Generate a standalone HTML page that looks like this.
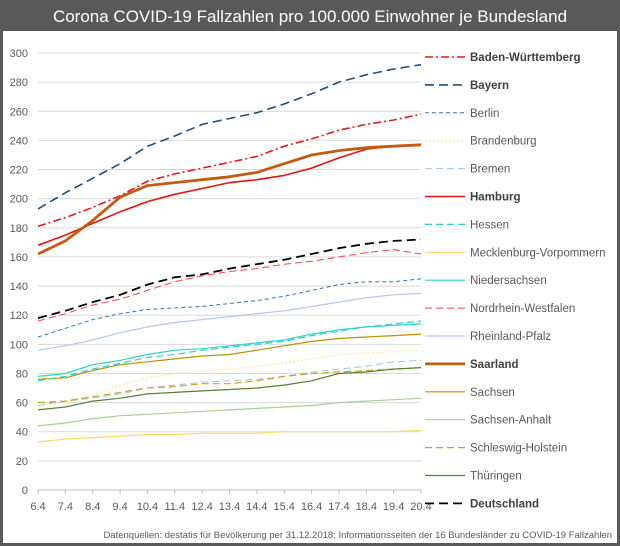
<!DOCTYPE html>
<html><head><meta charset="utf-8">
<style>
html,body{margin:0;padding:0;}
body{width:620px;height:546px;overflow:hidden;background:#fff;font-family:"Liberation Sans",sans-serif;}
#frame{position:absolute;left:0;top:0;width:614px;height:540px;border:3px solid #5a5a5a;background:#fff;}
#title{position:absolute;left:0;top:0;width:614px;height:28px;background:#595959;color:#fff;font-size:17px;line-height:28px;text-align:center;}
svg{position:absolute;left:0;top:0;}
</style></head><body>
<div id="frame"><div id="title">Corona COVID-19 Fallzahlen pro 100.000 Einwohner je Bundesland</div></div>
<svg id="s" width="620" height="546" xmlns="http://www.w3.org/2000/svg" font-family="Liberation Sans, sans-serif"></svg>
<script>
const s=document.getElementById('s');
const X0=38,X1=421,Y0=490,k=(490-53)/300;
const xs=i=>X0+i*(X1-X0)/14, ys=v=>Y0-v*k;
let h='';
for(let v=0;v<=300;v+=20){const y=ys(v);h+=`<line x1="${X0}" x2="${X1}" y1="${y}" y2="${y}" stroke="${v==0?'#bfbfbf':'#d9d9d9'}" stroke-width="1"/>`;
h+=`<text x="28" y="${y+4}" font-size="11" fill="#595959" text-anchor="end">${v}</text>`;}
for(let i=0;i<15;i++){const x=xs(i);h+=`<line x1="${x}" x2="${x}" y1="490" y2="494" stroke="#bfbfbf"/>`;
h+=`<text x="${x}" y="510" font-size="11" fill="#595959" text-anchor="middle">${(6.4+i).toFixed(1)}</text>`;}
const S=[
["Baden-Württemberg","#e31a1c",1.6,"8,3,2,3",1,[181,187,194,202,212,217,221,225,229,236,241,247,251,254,258]],
["Bayern","#1f4e79",1.6,"9,5",1,[193,204,214,224,236,243,251,255,259,265,272,280,285,289,292]],
["Berlin","#2e75b6",1,"4,3",0,[105,111,117,121,124,125,126,128,130,133,137,141,143,143,145]],
["Brandenburg","#ffe699",1.2,"2,2",0,[57,60,65,72,77,80,82,83,85,87,90,93,94,95,96]],
["Bremen","#9dc3e6",1,"7,4",0,[58,61,63,66,70,72,74,75,76,78,81,83,85,88,89]],
["Hamburg","#e81010",1.6,"",1,[168,175,183,191,198,203,207,211,213,216,221,228,234,236,237]],
["Hessen","#33cccc",1.2,"7,4",0,[75,78,83,87,91,93,96,98,100,102,106,109,112,114,116]],
["Mecklenburg-Vorpommern","#ffd966",1.2,"",0,[33,35,36,37,38,38,39,39,39,40,40,40,40,40,41]],
["Niedersachsen","#2bd4c4",1.2,"",0,[78,80,86,89,93,96,97,99,101,103,107,110,112,113,114]],
["Nordrhein-Westfalen","#ff4040",1,"7,4",0,[116,121,127,131,137,143,147,150,152,155,157,160,163,165,162]],
["Rheinland-Pfalz","#b4c7e7",1.2,"",0,[96,99,103,108,112,115,117,119,121,123,126,129,132,134,135]],
["Saarland","#c55a11",2.8,"",1,[162,171,185,201,209,211,213,215,218,224,230,233,235,236,237]],
["Sachsen","#bf9000",1.2,"",0,[76,77,82,86,88,90,92,93,96,99,102,104,105,106,107]],
["Sachsen-Anhalt","#a9d18e",1.2,"",0,[44,46,49,51,52,53,54,55,56,57,58,60,61,62,63]],
["Schleswig-Holstein","#c9a227",1.2,"7,4",0,[60,61,64,67,70,71,73,73,75,78,80,81,82,83,84]],
["Thüringen","#548235",1.2,"",0,[55,57,61,63,66,67,68,69,70,72,75,80,81,83,84]],
["Deutschland","#000",1.8,"9,5",1,[118,123,129,134,141,146,148,152,155,158,162,166,169,171,172]]];
const order=[7,13,3,4,14,15,12,6,8,10,2,9,0,5,11,16,1];
order.forEach(j=>{const d=S[j];const p=d[5].map((v,i)=>xs(i).toFixed(1)+','+ys(v).toFixed(1)).join(' ');
h+=`<polyline points="${p}" fill="none" stroke="${d[1]}" stroke-width="${d[2]}" ${d[3]?`stroke-dasharray="${d[3]}"`:''} stroke-linejoin="round"/>`;});
S.forEach((d,i)=>{const y=57+i*27.9;
h+=`<line x1="425" x2="465" y1="${y}" y2="${y}" stroke="${d[1]}" stroke-width="${d[2]}" ${d[3]?`stroke-dasharray="${d[3]}"`:''}/>`;
h+=`<text x="470" y="${y+4}" font-size="11.5" fill="${d[4]?'#404040':'#595959'}" ${d[4]?'font-weight="bold"':''}>${d[0]}</text>`;});
h+=`<text x="612" y="538" font-size="9.5" fill="#595959" text-anchor="end">Datenquellen: destatis für Bevölkerung per 31.12.2018; Informationsseiten der 16 Bundesländer zu COVID-19 Fallzahlen</text>`;
s.innerHTML=h;
</script>
</body></html>
